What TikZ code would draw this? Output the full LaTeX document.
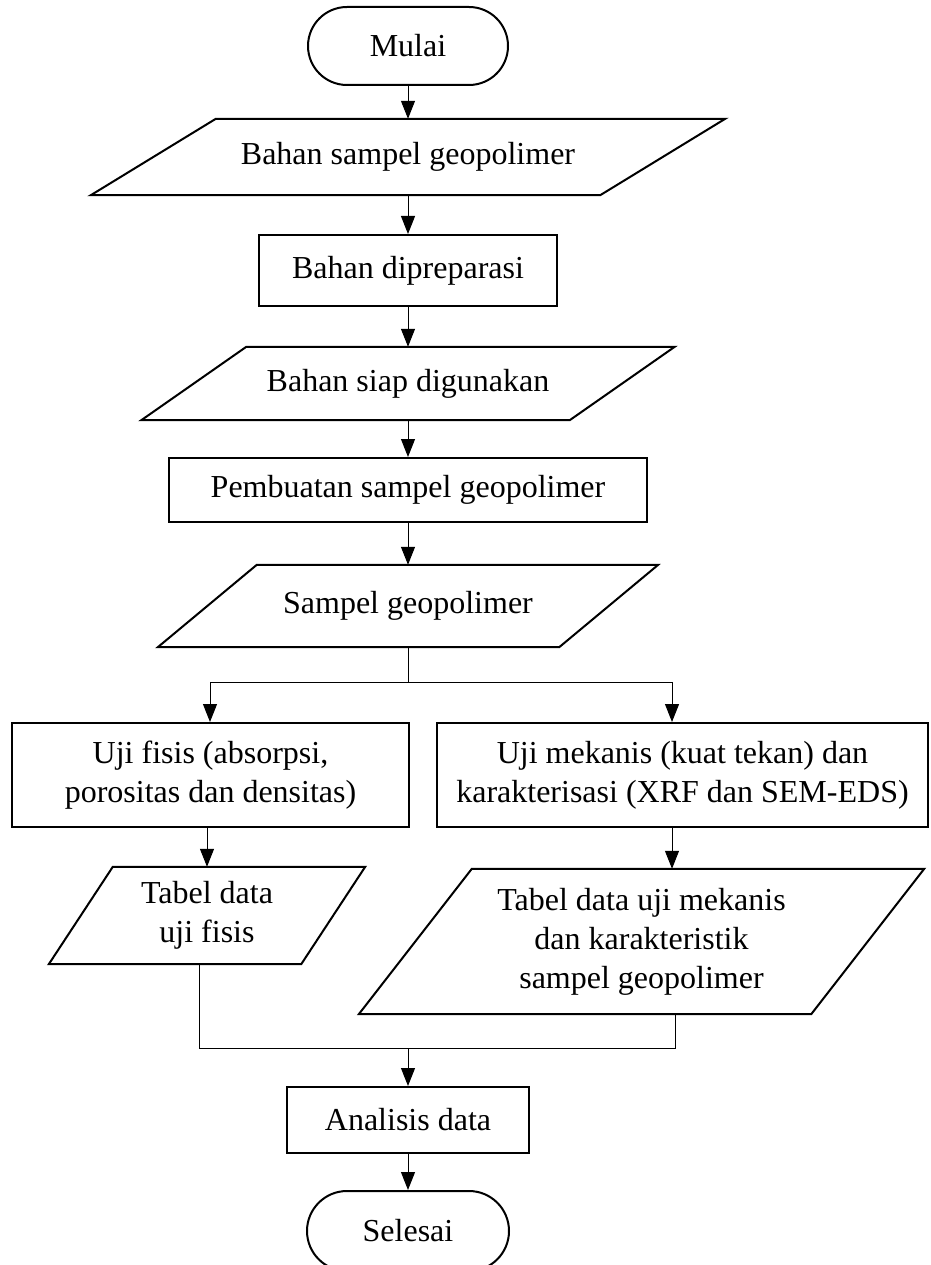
\documentclass[tikz,border=0pt]{standalone}
\usepackage{fontspec}
\setmainfont{Liberation Serif}
\usetikzlibrary{shapes.misc,arrows.meta}

\tikzset{
  base/.style={font=\fontsize{32}{39}\selectfont, align=center, inner sep=0pt},
  terminal/.style={base, draw, line width=2pt, rounded rectangle,
                   minimum width=200pt, minimum height=78pt},
  process/.style={base, draw, line width=2pt, rectangle},
  iobody/.style={base, rectangle},
  outline/.style={line width=2pt, line join=miter},
  flow/.style={line width=1pt, -{Triangle[length=18pt,width=14pt]}},
  link/.style={line width=1pt},
}

% data (input/output) box: name, centre x, centre y, width, height, slant, text
\newcommand{\iobox}[7]{%
  \node[iobody, minimum width=#4, minimum height=#5] (#1) at (#2,#3) {#7};
  \draw[outline] ([xshift=#6/2]#1.north west) -- ([xshift=#6/2]#1.north east)
     -- ([xshift=-#6/2]#1.south east) -- ([xshift=-#6/2]#1.south west) -- cycle;
}

\begin{document}
\begin{tikzpicture}[x=1pt,y=-1pt]
  \useasboundingbox (0,0) rectangle (930,1265);
  \clip (0,0) rectangle (930,1265);

  % main column
  \node[terminal] (start) at (408,46) {Mulai};
  \iobox{bahan}{408}{157}{509}{76}{125}{Bahan sampel geopolimer}
  \node[process, minimum width=298, minimum height=71] (prep) at (408,270.5) {Bahan dipreparasi};
  \iobox{siap}{408}{383.5}{428}{73}{105}{Bahan siap digunakan}
  \node[process, minimum width=478, minimum height=64] (buat) at (408,490) {Pembuatan sampel geopolimer};
  \iobox{sampel}{408}{606}{401}{82}{99}{Sampel geopolimer}

  % two test branches
  \node[process, minimum width=397, minimum height=104] (fisis) at (210.5,775)
       {Uji fisis (absorpsi,\\porositas dan densitas)};
  \node[process, minimum width=491, minimum height=104] (mek) at (682.5,775)
       {Uji mekanis (kuat tekan) dan\\karakterisasi (XRF dan SEM-EDS)};
  \iobox{tab1}{207}{915.5}{252}{97}{64}{Tabel data\\uji fisis}
  \iobox{tab2}{641.5}{941.5}{452}{145}{113}{Tabel data uji mekanis\\dan karakteristik\\sampel geopolimer}

  % closing steps
  \node[process, minimum width=242, minimum height=66] (ana) at (408,1120) {Analisis data};
  \node[terminal, minimum width=202, minimum height=80] (stop) at (408,1231) {Selesai};

  % junction points
  \coordinate (fM) at (408,682);
  \coordinate (fL) at (210,682);
  \coordinate (fR) at (672,682);
  \coordinate (mM) at (408,1048);
  \coordinate (mL) at (199,1048);
  \coordinate (mR) at (675,1048);

  % connectors
  \draw[flow] (start.south) -- (bahan.north);
  \draw[flow] (bahan.south) -- (prep.north);
  \draw[flow] (prep.south) -- (siap.north);
  \draw[flow] (siap.south) -- (buat.north);
  \draw[flow] (buat.south) -- (sampel.north);

  \draw[link] (sampel.south) -- (fM);
  \draw[link] (fL) -- (fR);
  \draw[flow] (fL) -- (fisis.north -| fL);
  \draw[flow] (fR) -- (mek.north -| fR);

  \draw[flow] (fisis.south -| tab1.north) -- (tab1.north);
  \draw[flow] (mek.south -| fR) -- (tab2.north -| fR);

  \draw[link] (tab1.south -| mL) -- (mL) -- (mR) -- (tab2.south -| mR);
  \draw[flow] (mM) -- (ana.north);
  \draw[flow] (ana.south) -- (stop.north);
\end{tikzpicture}
\end{document}
